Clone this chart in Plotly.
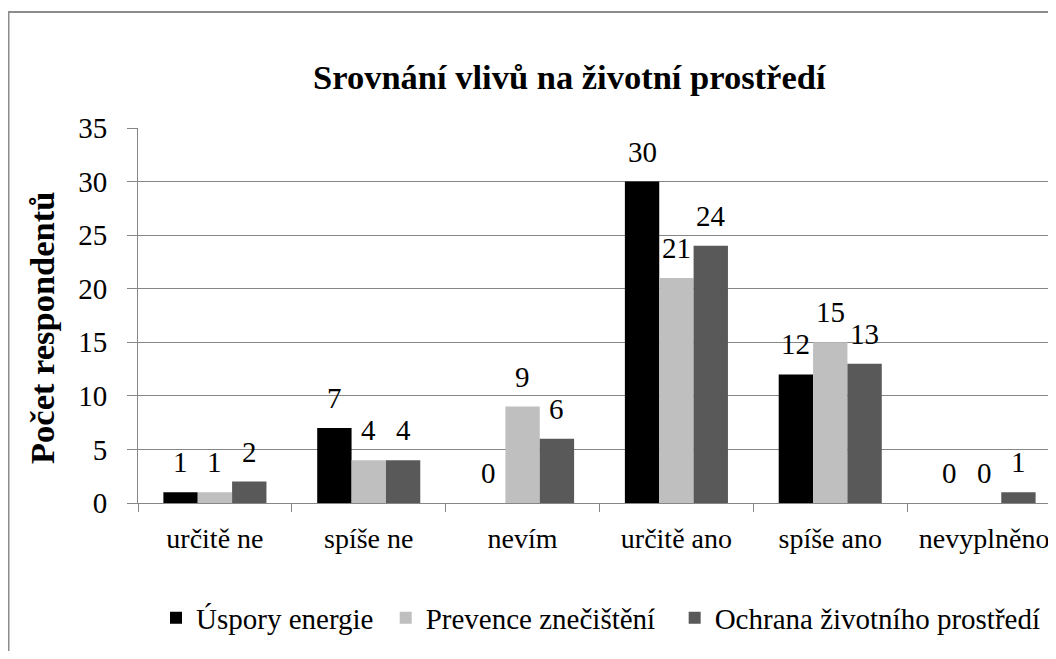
import plotly.graph_objects as go

categories = ["určitě ne", "spíše ne", "nevím", "určitě ano", "spíše ano", "nevyplněno"]
series_names = ["Úspory energie", "Prevence znečištění", "Ochrana životního prostředí"]
uspory = [1, 7, 0, 30, 12, 0]
prevence = [1, 4, 9, 21, 15, 0]
ochrana = [2, 4, 6, 24, 13, 1]
y_ticks = [0, 5, 10, 15, 20, 25, 30, 35]

colors = ["#000000", "#BFBFBF", "#595959"]
FONT = "Liberation Serif"
FS = 29
NB = "\u00a0"
legend_pad = [1, 2, 0]

# page body has an 8px margin, so work in figure coordinates = screen - 8
W, H = 1048, 643
L, R, T = 130, 0, 120
PH = 375
B = H - T - PH
PW = W - L - R

def px_x(px):
    return (px - L) / PW

def px_y(py):
    return (H - B - py) / PH

bargap = 0.33
cat_w = 154.0
bar_w = cat_w * (1 - bargap) / 3

fig = go.Figure()
all_series = [uspory, prevence, ochrana]
for name, vals, c, pad in zip(series_names, all_series, colors, legend_pad):
    fig.add_trace(go.Bar(
        x=categories, y=vals, name=name + NB * pad,
        marker=dict(color=c, line=dict(width=0)),
    ))

annotations = []
for i, vals in enumerate(all_series):
    for cat, v in zip(categories, vals):
        annotations.append(dict(
            x=cat, y=v, xref="x", yref="y", text=str(v), showarrow=False,
            xshift=(i - 1) * bar_w, yshift=12, yanchor="bottom",
            font=dict(family=FONT, size=FS, color="#000000"),
        ))

annotations.append(dict(
    x=px_x(561), y=px_y(69), xref="paper", yref="paper",
    text="<b>Srovnání vlivů na životní prostředí</b>", showarrow=False,
    xanchor="center", yanchor="middle",
    font=dict(family=FONT, size=34.5, color="#000000"),
))
annotations.append(dict(
    x=px_x(34), y=px_y(320), xref="paper", yref="paper",
    text="<b>Počet respondentů</b>", showarrow=False, textangle=-90,
    xanchor="center", yanchor="middle",
    font=dict(family=FONT, size=34.5, color="#000000"),
))

fig.update_layout(
    width=W, height=H,
    margin=dict(l=L, r=R, t=T, b=B, pad=0),
    paper_bgcolor="white", plot_bgcolor="white",
    barmode="group", bargap=bargap, bargroupgap=0,
    font=dict(family=FONT, size=FS, color="#000000"),
    showlegend=True,
    legend=dict(
        orientation="h", x=px_x(148), y=px_y(610), xanchor="left", yanchor="middle",
        font=dict(family=FONT, size=FS, color="#000000"),
        bgcolor="rgba(0,0,0,0)", itemwidth=30, traceorder="normal",
    ),
    annotations=annotations,
    shapes=[
        dict(type="line", xref="paper", yref="paper",
             x0=px_x(0.5), x1=px_x(0.5), y0=px_y(4), y1=px_y(700),
             line=dict(color="#8C8C8C", width=2)),
        dict(type="line", xref="paper", yref="paper",
             x0=px_x(0), x1=px_x(1100), y0=px_y(4), y1=px_y(4),
             line=dict(color="#8C8C8C", width=2)),
    ],
)

fig.update_xaxes(
    type="category", range=[-0.5, 5.5 - 5 / cat_w],
    showline=True, linecolor="#868686", linewidth=1,
    ticks="outside", tickson="boundaries", ticklen=8, tickcolor="#868686",
    showgrid=False, zeroline=False,
    tickfont=dict(family=FONT, size=28, color="#000000"),
    ticklabelstandoff=10, ticklabeloverflow="allow",
)
fig.update_yaxes(
    range=[0, 35], tickvals=y_ticks, ticktext=[str(t) for t in y_ticks],
    showline=True, linecolor="#868686", linewidth=1,
    ticks="outside", ticklen=10, tickcolor="#868686",
    showgrid=True, gridcolor="#868686", gridwidth=1,
    zeroline=False,
    tickfont=dict(family=FONT, size=FS, color="#000000"),
    ticklabelstandoff=14,
)

fig.write_html("out.html")
